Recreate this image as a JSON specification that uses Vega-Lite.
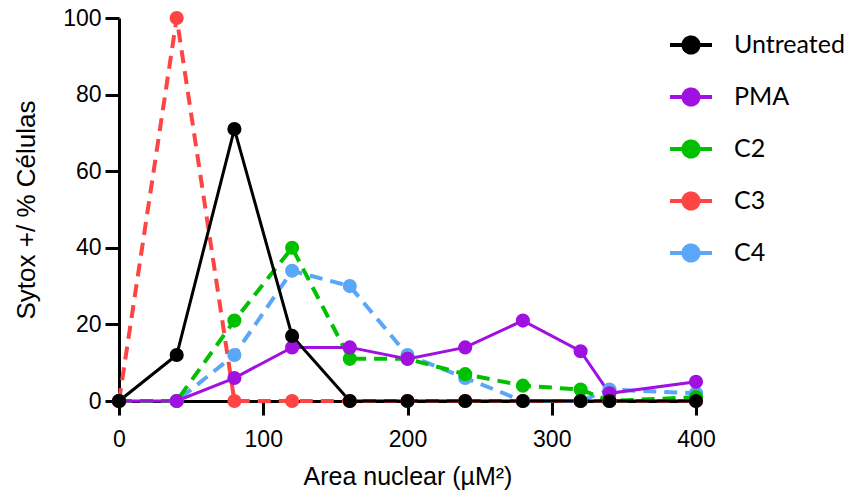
{
  "$schema": "https://vega.github.io/schema/vega-lite/v6.json",
  "width": 577,
  "height": 383,
  "autosize": {"type": "none"},
  "padding": {"left": 119, "top": 18, "right": 154, "bottom": 101},
  "background": "white",
  "config": {
    "view": {"stroke": null},
    "axis": {
      "grid": false,
      "domainColor": "black",
      "domainWidth": 3,
      "tickColor": "black",
      "tickWidth": 3,
      "tickSize": 14,
      "labelFont": "Liberation Sans",
      "labelFontSize": 23,
      "labelColor": "black",
      "labelFlush": false,
      "titleFont": "Liberation Sans",
      "titleFontSize": 25,
      "titleFontWeight": "normal",
      "titleColor": "black"
    }
  },
  "data": {
    "values": [
      {"x": 0, "pct": 0, "group": "C4"},
      {"x": 40, "pct": 0, "group": "C4"},
      {"x": 80, "pct": 12, "group": "C4"},
      {"x": 120, "pct": 34, "group": "C4"},
      {"x": 160, "pct": 30, "group": "C4"},
      {"x": 200, "pct": 12, "group": "C4"},
      {"x": 240, "pct": 6, "group": "C4"},
      {"x": 280, "pct": 0, "group": "C4"},
      {"x": 320, "pct": 0, "group": "C4"},
      {"x": 340, "pct": 3, "group": "C4"},
      {"x": 400, "pct": 2, "group": "C4"},
      {"x": 0, "pct": 0, "group": "C3"},
      {"x": 40, "pct": 100, "group": "C3"},
      {"x": 80, "pct": 0, "group": "C3"},
      {"x": 120, "pct": 0, "group": "C3"},
      {"x": 160, "pct": 0, "group": "C3"},
      {"x": 200, "pct": 0, "group": "C3"},
      {"x": 240, "pct": 0, "group": "C3"},
      {"x": 280, "pct": 0, "group": "C3"},
      {"x": 320, "pct": 0, "group": "C3"},
      {"x": 340, "pct": 0, "group": "C3"},
      {"x": 400, "pct": 0, "group": "C3"},
      {"x": 0, "pct": 0, "group": "C2"},
      {"x": 40, "pct": 0, "group": "C2"},
      {"x": 80, "pct": 21, "group": "C2"},
      {"x": 120, "pct": 40, "group": "C2"},
      {"x": 160, "pct": 11, "group": "C2"},
      {"x": 200, "pct": 11, "group": "C2"},
      {"x": 240, "pct": 7, "group": "C2"},
      {"x": 280, "pct": 4, "group": "C2"},
      {"x": 320, "pct": 3, "group": "C2"},
      {"x": 340, "pct": 0, "group": "C2"},
      {"x": 400, "pct": 1, "group": "C2"},
      {"x": 0, "pct": 0, "group": "PMA"},
      {"x": 40, "pct": 0, "group": "PMA"},
      {"x": 80, "pct": 6, "group": "PMA"},
      {"x": 120, "pct": 14, "group": "PMA"},
      {"x": 160, "pct": 14, "group": "PMA"},
      {"x": 200, "pct": 11, "group": "PMA"},
      {"x": 240, "pct": 14, "group": "PMA"},
      {"x": 280, "pct": 21, "group": "PMA"},
      {"x": 320, "pct": 13, "group": "PMA"},
      {"x": 340, "pct": 2, "group": "PMA"},
      {"x": 400, "pct": 5, "group": "PMA"},
      {"x": 0, "pct": 0, "group": "Untreated"},
      {"x": 40, "pct": 12, "group": "Untreated"},
      {"x": 80, "pct": 71, "group": "Untreated"},
      {"x": 120, "pct": 17, "group": "Untreated"},
      {"x": 160, "pct": 0, "group": "Untreated"},
      {"x": 200, "pct": 0, "group": "Untreated"},
      {"x": 240, "pct": 0, "group": "Untreated"},
      {"x": 280, "pct": 0, "group": "Untreated"},
      {"x": 320, "pct": 0, "group": "Untreated"},
      {"x": 340, "pct": 0, "group": "Untreated"},
      {"x": 400, "pct": 0, "group": "Untreated"}
    ]
  },
  "encoding": {
    "x": {
      "field": "x", "type": "quantitative",
      "scale": {"domain": [0, 400], "nice": false},
      "axis": {"values": [0, 100, 200, 300, 400], "title": "Area nuclear (µM²)", "labelPadding": 13, "titlePadding": 13, "labelFlush": false}
    },
    "y": {
      "field": "pct", "type": "quantitative",
      "scale": {"domain": [0, 100], "nice": false},
      "axis": {"values": [0, 20, 40, 60, 80, 100], "title": "Sytox +/ % Células", "labelPadding": 4, "titlePadding": 23, "titleFontSize": 26}
    },
    "color": {
      "field": "group", "type": "nominal",
      "scale": {
        "domain": ["Untreated", "PMA", "C2", "C3", "C4"],
        "range": ["#000000", "#A010E0", "#00C000", "#FF4444", "#5AA6F7"]
      },
      "legend": {
        "title": null,
        "orient": "none",
        "legendX": 549,
        "legendY": 4,
        "padding": 0,
        "symbolType": "M-1,0L1,0M0.36,0A0.36,0.36 0 1,1 -0.36,0A0.36,0.36 0 1,1 0.36,0Z",
        "symbolSize": 1764,
        "symbolStrokeWidth": 4,
        "symbolOpacity": 1,
        "labelFont": "Lato",
        "labelFontSize": 25,
        "labelColor": "black",
        "labelOffset": 20,
        "rowPadding": 13,
        "encode": {
          "symbols": {
            "update": {
              "fill": {"field": "value", "scale": "color"},
              "stroke": {"field": "value", "scale": "color"},
              "strokeWidth": {"value": 4},
              "opacity": {"value": 1},
              "strokeDash": {"value": [1, 0]}
            }
          }
        }
      }
    }
  },
  "layer": [
    {
      "transform": [{"filter": {"field": "group", "oneOf": ["C2", "C3", "C4"]}}],
      "mark": {"type": "line", "strokeWidth": 4, "strokeDash": [13, 8], "strokeCap": "butt"}
    },
    {
      "transform": [{"filter": {"field": "group", "oneOf": ["Untreated", "PMA"]}}],
      "mark": {"type": "line", "strokeWidth": 3}
    },
    {
      "mark": {"type": "point", "filled": true, "size": 200, "opacity": 1, "shape": "circle"}
    }
  ]
}
